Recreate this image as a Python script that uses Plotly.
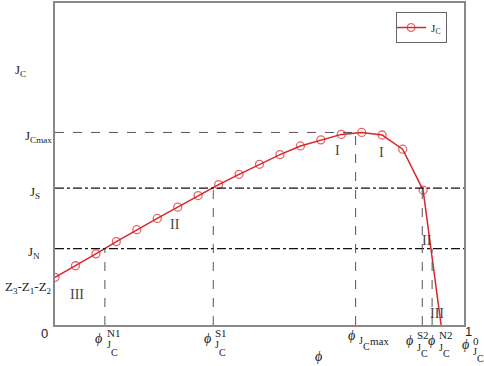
import plotly.graph_objects as go

# ---- data ----
phi = [0.0, 0.05, 0.10, 0.15, 0.20, 0.25, 0.30, 0.35, 0.40, 0.45, 0.50,
       0.55, 0.60, 0.65, 0.70, 0.75, 0.80, 0.85, 0.90, 0.944]
jc = [0.148, 0.184, 0.221, 0.259, 0.296, 0.331, 0.366, 0.402, 0.436, 0.468,
      0.499, 0.529, 0.556, 0.575, 0.592, 0.598, 0.590, 0.546, 0.419, 0.0]
marker_shown = [True] * 19 + [False]

levels = {"Jcmax": 0.598, "JS": 0.425, "JN": 0.237}
phi_marks = {"N1": 0.122, "S1": 0.387, "max": 0.735, "S2": 0.898, "N2": 0.922}
phi_zero = 0.944

RED = "#d9262c"
SERIF = "Liberation Serif"
TXT = "#222222"

fig = go.Figure()
fig.add_trace(go.Scatter(
    x=phi, y=jc, mode="lines+markers", name="J<sub>C</sub>",
    line=dict(color=RED, width=1.5),
    marker=dict(symbol="circle-open", size=[8 if m else 0 for m in marker_shown],
                color=RED, line=dict(width=1.3, color=RED)),
))

shapes = []
shapes.append(dict(type="line", xref="x", yref="y", x0=0, x1=phi_marks["max"],
                   y0=levels["Jcmax"], y1=levels["Jcmax"],
                   line=dict(color="#555555", width=1, dash="dash")))
for k in ("JS", "JN"):
    shapes.append(dict(type="line", xref="x", yref="y", x0=0, x1=1,
                       y0=levels[k], y1=levels[k],
                       line=dict(color="#111111", width=1.2, dash="dashdot")))
vtops = {"N1": levels["JN"], "S1": levels["JS"], "max": levels["Jcmax"],
         "S2": levels["JS"], "N2": levels["JN"]}
for k, xv in phi_marks.items():
    shapes.append(dict(type="line", xref="x", yref="y", x0=xv, x1=xv,
                       y0=0, y1=vtops[k],
                       line=dict(color="#555555", width=1, dash="dash")))

ann = []
PX = 409.0
PY = 322.0


def A(text, x, y, size=12, xanchor="center", yanchor="middle", family=SERIF, color=TXT):
    ann.append(dict(text=text, x=x, y=y, xref="paper", yref="paper", showarrow=False,
                    xanchor=xanchor, yanchor=yanchor,
                    font=dict(family=family, size=size, color=color)))


def phi_label(xv, sup, dy=0.0, sup_dy=0.0):
    A("<i>ϕ</i>", xv - 6 / PX, -13 / PY - dy, size=14)
    A(sup, xv + 0 / PX, -8 / PY - dy - sup_dy, size=11, xanchor="left")
    A("J", xv + 0 / PX, -20 / PY - dy, size=10, xanchor="left")
    A("C", xv + 4 / PX, -27 / PY - dy, size=10, xanchor="left")


phi_label(phi_marks["N1"], "N1")
phi_label(phi_marks["S1"], "S1")
phi_label(phi_marks["S2"] - 7 / PX, "S2", dy=2 / PY)
phi_label(phi_marks["N2"] + 5 / PX, "N2", dy=2 / PY)
phi_label(phi_zero + 30 / PX, "0", dy=6 / PY, sup_dy=2 / PY)
xm = phi_marks["max"]
A("<i>ϕ</i>", xm - 4 / PX, -10 / PY, size=14)
A("J", xm + 1 / PX, -15 / PY, size=10, xanchor="left")
A("C", xm + 5 / PX, -21 / PY, size=10, xanchor="left")
A("max", xm + 12 / PX, -16 / PY, size=11, xanchor="left")
A("0", -11 / PX, -8 / PY, size=13, family="Liberation Sans")
A("1", 1 + 4 / PX, -6 / PY, size=13, family="Liberation Sans")
A("<i>ϕ</i>", (318 - 55) / PX, -31 / PY, size=14)

A("J<sub>C</sub>", -35 / PX, (325 - 70) / PY, size=13, xanchor="center")
A("J<sub>Cmax</sub>", -1 / PX, levels["Jcmax"] - 4 / PY, size=13, xanchor="right")
A("J<sub>S</sub>", -13 / PX, levels["JS"] - 4 / PY, size=13, xanchor="right")
A("J<sub>N</sub>", -13 / PX, levels["JN"] - 4 / PY, size=13, xanchor="right")
A("Z<sub>3</sub>-Z<sub>1</sub>-Z<sub>2</sub>", -1 / PX, jc[0] - 10 / PY, size=13, xanchor="right")

A("I", (337 - 55) / PX, (325 - 150) / PY, size=14, color="#444")
A("I", (381 - 55) / PX, (325 - 152) / PY, size=14, color="#444")
A("II", (175 - 55) / PX, (325 - 224) / PY, size=14, color="#444")
A("II", (427 - 55) / PX, (325 - 240) / PY, size=14, color="#444")
A("III", (77 - 55) / PX, (325 - 294) / PY, size=14, color="#444")
A("III", (437 - 55) / PX, (325 - 313) / PY, size=14, color="#444")

ann.append(dict(x=phi[-1] + 3 / PX, y=0.0 - 1 / PY, ax=17, ay=11, xref="x", yref="y",
                showarrow=True, arrowhead=2, arrowsize=1.3, arrowwidth=1.5,
                arrowcolor="#111", text=""))

fig.update_layout(
    width=484, height=366,
    margin=dict(l=55, r=20, t=3, b=41, autoexpand=False),
    paper_bgcolor="white", plot_bgcolor="white",
    shapes=shapes, annotations=ann,
    showlegend=True,
    legend=dict(x=0.834, y=0.972, xanchor="left", yanchor="top",
                bordercolor="#666", borderwidth=1, bgcolor="white",
                font=dict(family=SERIF, size=11, color=TXT),
                itemwidth=30, tracegroupgap=0, indentation=-6),
    xaxis=dict(range=[0, 1], showgrid=False, zeroline=False, showticklabels=False,
               ticks="", showline=True, mirror=True, linecolor="#888", linewidth=1.5),
    yaxis=dict(range=[0, 1], showgrid=False, zeroline=False, showticklabels=False,
               ticks="", showline=True, mirror=True, linecolor="#888", linewidth=1.5),
)

fig.write_html("out.html", config={"displayModeBar": False},
               post_script="document.body.style.margin='0px';")
